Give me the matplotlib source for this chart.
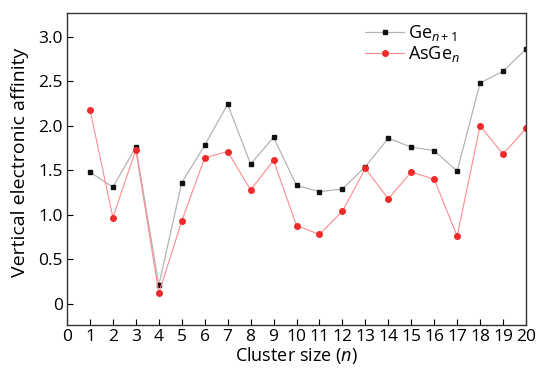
import numpy as np
import matplotlib
matplotlib.use("Agg")
import matplotlib.pyplot as plt

plt.rcParams['font.family'] = ['Open Sans', 'DejaVu Sans']
plt.rcParams['mathtext.fontset'] = 'custom'
plt.rcParams['mathtext.rm'] = 'Open Sans'
plt.rcParams['mathtext.it'] = 'Open Sans:italic'

# cluster size n
n = np.arange(1, 21)
# vertical electronic affinity
ge_n1 = [1.48, 1.31, 1.76, 0.21, 1.36, 1.78, 2.24, 1.57, 1.87, 1.33,
         1.26, 1.29, 1.54, 1.86, 1.76, 1.72, 1.49, 2.48, 2.61, 2.86]
asge_n = [2.18, 0.97, 1.73, 0.12, 0.93, 1.64, 1.71, 1.28, 1.61, 0.88,
          0.78, 1.04, 1.52, 1.18, 1.48, 1.40, 0.76, 2.00, 1.68, 1.97]

xticks = list(range(0, 21))
yticks = [0, 0.5, 1.0, 1.5, 2.0, 2.5, 3.0]
ylabels = ['0', '0.5', '1.0', '1.5', '2.0', '2.5', '3.0']

fig = plt.figure(figsize=(5.39, 3.72), dpi=100)
ax = fig.add_axes([67/539, 1 - 325/372, (526-67)/539, (325-12.5)/372])

ax.plot(n, ge_n1, color='#b4b4b4', lw=0.9, marker='s', ms=3.4,
        mfc='#111111', mec='#111111', label='Ge$_{n+1}$')
ax.plot(n, asge_n, color='#ff8c8c', lw=0.8, marker='o', ms=4.0,
        mfc='#ee2a2a', mec='#ee2a2a', label='AsGe$_n$')

ax.set_xlim(0, 20)
ax.set_ylim(-0.236, 3.27)
ax.set_xticks(xticks)
ax.set_xticklabels([str(t) for t in xticks])
ax.set_yticks(yticks)
ax.set_yticklabels(ylabels)
ax.tick_params(direction='in', length=4, width=0.8, labelsize=12.5, pad=3)
for s in ax.spines.values():
    s.set_linewidth(1.0)
    s.set_color('#333333')

ax.set_xlabel('Cluster size ($n$)', fontsize=13, labelpad=0)
ax.set_ylabel('Vertical electronic affinity', fontsize=14)
ax.yaxis.set_label_coords(-0.083, 0.52)

ax.legend(loc='upper left', bbox_to_anchor=(0.625, 1.0), frameon=False,
          fontsize=13, handlelength=2.2, handletextpad=0.2, labelspacing=0.05,
          borderaxespad=0, borderpad=0.6)

fig.savefig('out.png', dpi=100)
